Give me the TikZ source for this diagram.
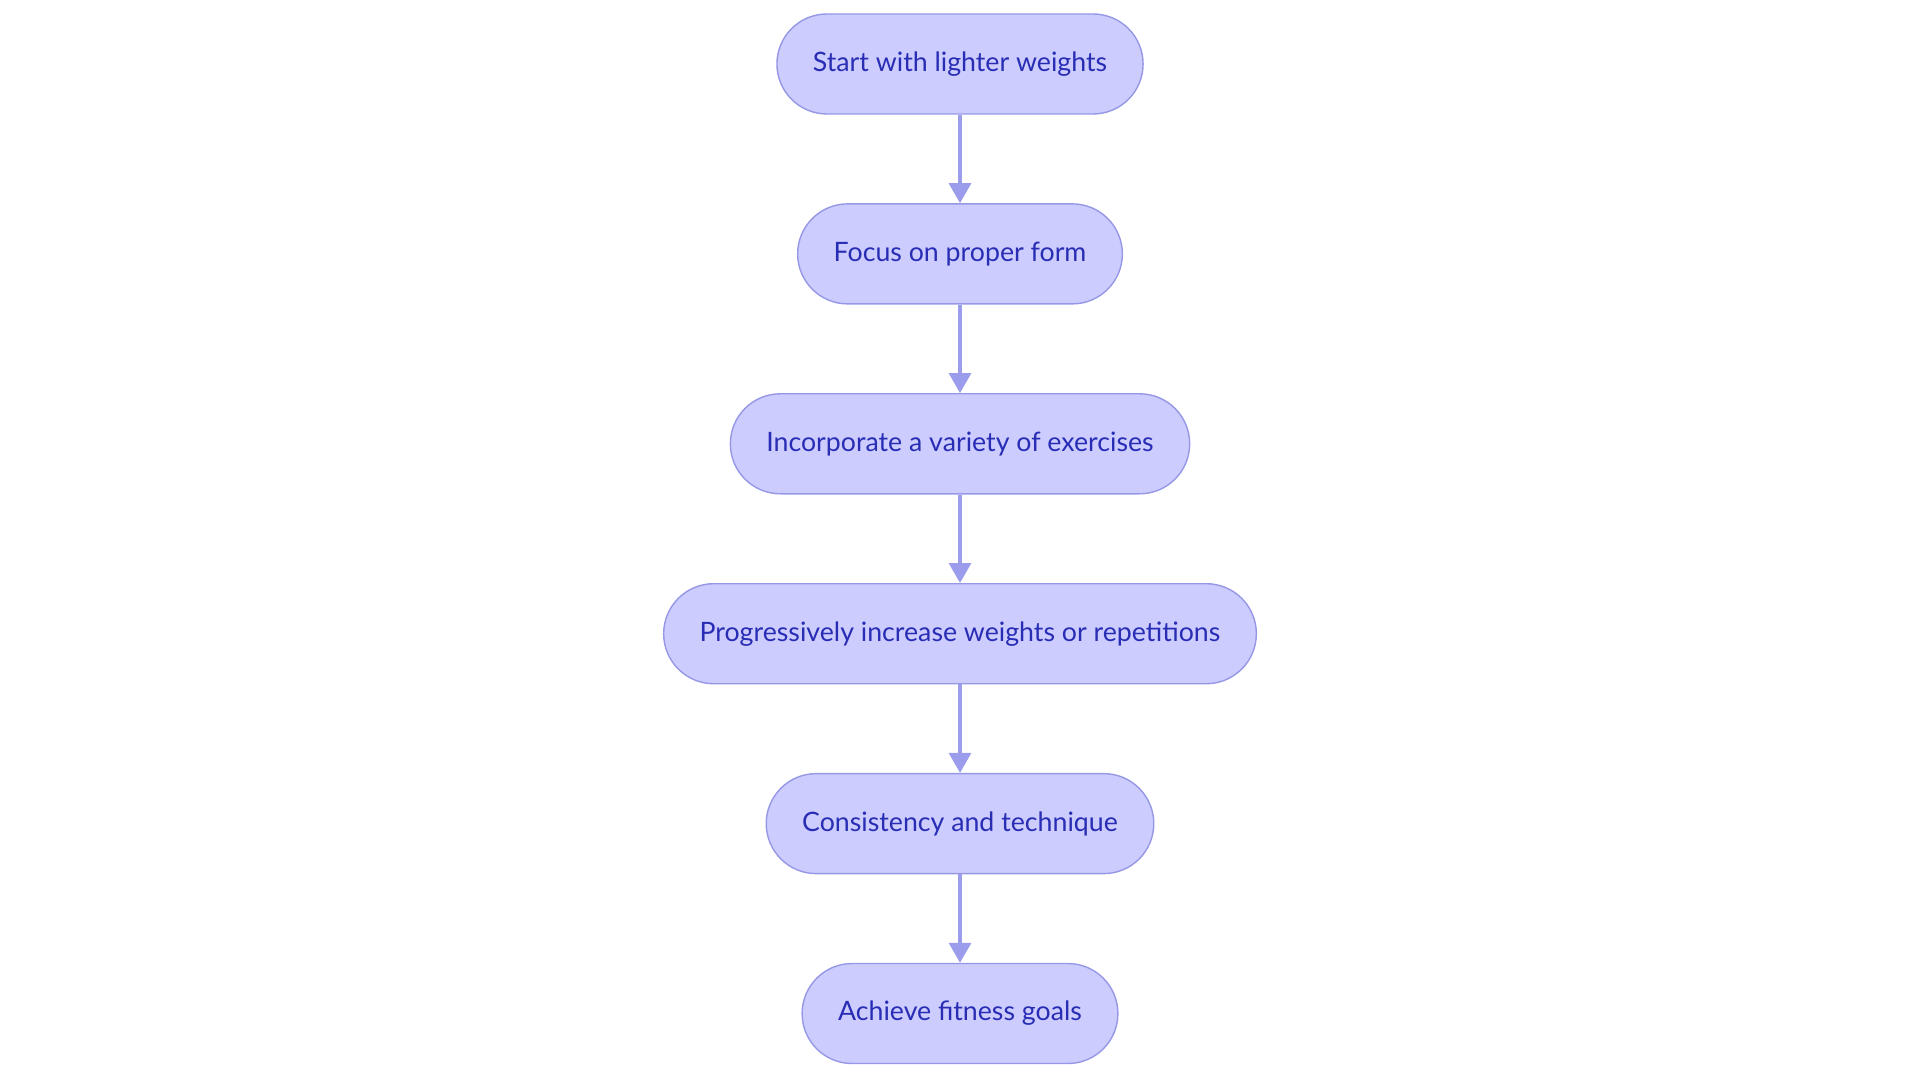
\documentclass[tikz,border=0pt]{standalone}
\usepackage{fontspec}
\setmainfont{Lato}
\usetikzlibrary{positioning,arrows.meta}

\definecolor{stepfill}{RGB}{204,204,255}
\definecolor{stepline}{RGB}{150,152,230}
\definecolor{steptext}{RGB}{40,45,180}
\definecolor{flowline}{RGB}{155,157,236}

\begin{document}
\begin{tikzpicture}[
    node distance=0.885cm,
    stage/.style={rectangle, draw=stepline, fill=stepfill, text=steptext, rounded corners=0.5cm, minimum height=1cm, inner xsep=0.36cm, font=\fontsize{7.6pt}{9pt}\selectfont, line width=0.4pt},
    arrow/.style={draw=flowline, line width=0.9pt, -{Triangle[length=0.2cm,width=0.22cm]}}
]
\useasboundingbox (0,0) rectangle (19.2,10.8);

% Steps
\node[stage] (start) at (9.6,10.16) {Start with lighter weights};
\node[stage, below=of start] (form) {Focus on proper form};
\node[stage, below=of form] (variety) {Incorporate a variety of exercises};
\node[stage, below=of variety] (increase) {Progressively increase weights or repetitions};
\node[stage, below=of increase] (consistency) {Consistency and technique};
\node[stage, below=of consistency] (goals) {Achieve fitness goals};

% Flow
\draw[arrow] (start) -- (form);
\draw[arrow] (form) -- (variety);
\draw[arrow] (variety) -- (increase);
\draw[arrow] (increase) -- (consistency);
\draw[arrow] (consistency) -- (goals);

\end{tikzpicture}
\end{document}
